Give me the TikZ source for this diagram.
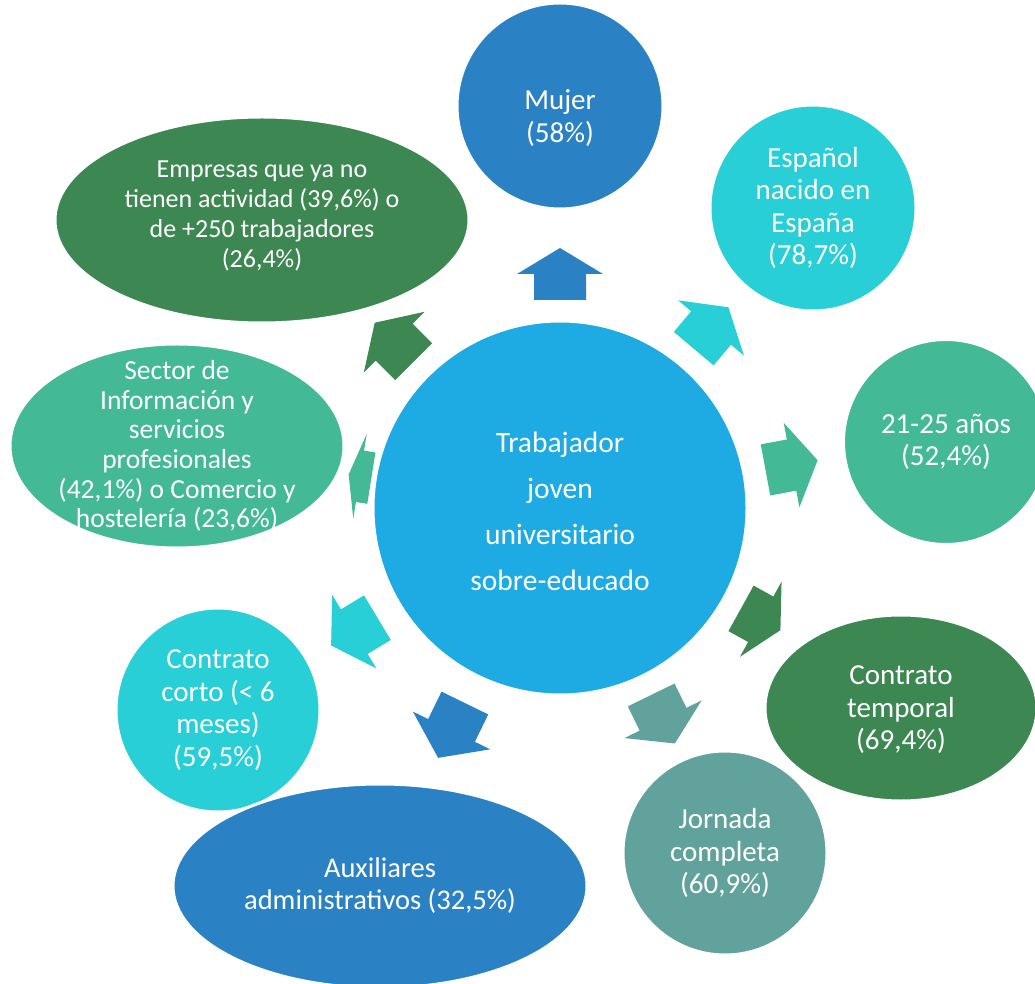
\documentclass[tikz,border=0pt]{standalone}
\usepackage{fontspec}
\setmainfont{Carlito}
\usepackage{xcolor}
\usepackage{tikz}
\usetikzlibrary{shapes.geometric}

\definecolor{hubblue}{HTML}{1EAAE2}
\definecolor{cblue}{HTML}{2A82C5}
\definecolor{ccyan}{HTML}{29CFD7}
\definecolor{cgreen}{HTML}{43B995}
\definecolor{cdkgreen}{HTML}{3D8753}
\definecolor{cteal}{HTML}{62A29D}

\begin{document}
\begin{tikzpicture}[
  x=1pt, y=1pt,
  bubble/.style={draw=white, line width=3pt, inner sep=0pt},
  txt/.style={text=white, align=center, font=\fontsize{29}{32.5}\selectfont},
]
  \useasboundingbox (0,0) rectangle (1035,983);
  \clip (0,0) rectangle (1035,983);

  % centre
  \node[bubble, circle, fill=hubblue, minimum size=374pt,
    label={[txt, font=\fontsize{29.5}{46}\selectfont, yshift=-3pt]center:{Trabajador\\joven\\universitario\\sobre-educado}}] (hub) at (560,475) {};

  % block arrows, angle/start/end/colour
  \foreach \ang/\ra/\rb/\col in {90/208/260/cblue, 50/208/262/ccyan, 10.5/209/262/cgreen,
      -29/207/252/cdkgreen, -64/208/262/cteal, -116/217/278/cblue,
      -149/213/267/ccyan, 171/191/214/cgreen, 135/207/262/cdkgreen} {
    \pgfmathsetmacro\rmid{(\ra+\rb)/2}
    \begin{scope}[shift={(hub.center)}, rotate=\ang]
      \fill[\col] (\ra,-26) -- (\rmid,-26) -- (\rmid,-43) -- (\rb,0)
        -- (\rmid,43) -- (\rmid,26) -- (\ra,26) -- cycle;
    \end{scope}
  }

  % outer nodes, clockwise from the top
  \node[bubble, circle, fill=cblue, minimum size=206pt,
    label={[txt, yshift=-12pt]center:{Mujer\\(58\%)}}] (mujer) at (560,877) {};
  \node[bubble, circle, fill=ccyan, minimum size=206pt,
    label={[txt]center:{Español\\nacido en\\España\\(78,7\%)}}] (espanol) at (813,775) {};
  \node[bubble, circle, fill=cgreen, minimum size=205pt,
    label={[txt]center:{21-25 años\\(52,4\%)}}] (edad) at (946,541) {};
  \node[bubble, ellipse, fill=cdkgreen, minimum width=272pt, minimum height=186pt,
    label={[txt, yshift=-2pt]center:{Contrato\\temporal\\(69,4\%)}}] (temporal) at (901,275) {};
  \node[bubble, circle, fill=cteal, minimum size=204pt,
    label={[txt]center:{Jornada\\completa\\(60,9\%)}}] (jornada) at (725,130) {};
  \node[bubble, circle, fill=ccyan, minimum size=204pt,
    label={[txt]center:{Contrato\\corto (\textless{} 6\\meses)\\(59,5\%)}}] (corto) at (218,273) {};
  \node[bubble, ellipse, fill=cblue, minimum width=414pt, minimum height=204pt,
    label={[txt, font=\fontsize{28.5}{32}\selectfont]center:{Auxiliares\\administrativos (32,5\%)}}] (aux) at (380,97) {};
  \node[bubble, ellipse, fill=cgreen, minimum width=334pt, minimum height=204pt,
    label={[txt, font=\fontsize{27.5}{29.6}\selectfont]center:{Sector de\\Información y\\servicios\\profesionales\\(42,1\%) o Comercio y\\hostelería (23,6\%)}}] (sector) at (177,537) {};
  \node[bubble, ellipse, fill=cdkgreen, minimum width=414pt, minimum height=206pt,
    label={[txt, font=\fontsize{26}{29.7}\selectfont, yshift=4pt]center:{Empresas que ya no\\tienen actividad (39,6\%) o\\de +250 trabajadores\\(26,4\%)}}] (empresas) at (262,763) {};
\end{tikzpicture}
\end{document}
